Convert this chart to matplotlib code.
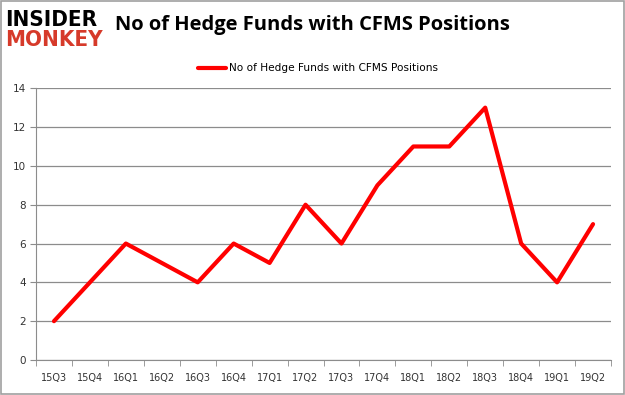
import numpy as np
import matplotlib.pyplot as plt
from matplotlib.patches import Rectangle

quarters = ['15Q3', '15Q4', '16Q1', '16Q2', '16Q3', '16Q4', '17Q1', '17Q2',
            '17Q3', '17Q4', '18Q1', '18Q2', '18Q3', '18Q4', '19Q1', '19Q2']
fondos = [2, 4, 6, 5, 4, 6, 5, 8, 6, 9, 11, 11, 13, 6, 4, 7]
yticks = [0, 2, 4, 6, 8, 10, 12, 14]

serie = 'No of Hedge Funds with CFMS Positions'
gris = '#8c8c8c'
texto = '#333333'

fig = plt.figure(figsize=(6.25, 3.95), dpi=100)
ax = fig.add_axes([0.0576, 0.0886, 0.92, 0.688])

x = np.arange(len(quarters))
ax.plot(x, fondos, color='#ff0000', lw=3, solid_capstyle='round', label=serie)

ax.set_xlim(-0.5, len(quarters) - 0.5)
ax.set_ylim(0, 14)
ax.set_yticks(yticks)
ax.set_xticks(x)
ax.set_xticklabels(quarters)
ax.set_xticks(np.arange(-0.5, len(quarters), 1), minor=True)
ax.tick_params(axis='x', which='major', length=0, pad=9, labelsize=7, labelcolor=texto)
ax.tick_params(axis='x', which='minor', length=4, color=gris)
ax.tick_params(axis='y', length=4, color=gris, labelsize=7.5, labelcolor=texto, pad=3)
ax.grid(axis='y', color=gris, lw=0.9)
ax.set_axisbelow(True)
for s in ['top', 'right']:
    ax.spines[s].set_visible(False)
for s in ['left', 'bottom']:
    ax.spines[s].set_color(gris)

ax.legend(loc='lower center', bbox_to_anchor=(0.49, 1.02), frameon=False,
          fontsize=7.6, handlelength=2.7, handletextpad=0.2)

fig.text(0.184, 0.937, serie, fontsize=14.5, fontweight='bold', family='Open Sans',
         ha='left', va='center', color='black')
fig.text(0.008, 0.95, 'INSIDER', fontsize=16, fontweight='heavy', family='DejaVu Sans',
         fontstretch='condensed', ha='left', va='center', color='black')
fig.text(0.008, 0.9, 'MONKEY', fontsize=16, fontweight='heavy', family='DejaVu Sans',
         fontstretch='condensed', ha='left', va='center', color='#d63a2a')

fig.patches.append(Rectangle((0.0015, 0.0015), 0.997, 0.997, transform=fig.transFigure,
                             fill=False, edgecolor='#a0a0a0', lw=1.2))

fig.savefig('out.png', dpi=100)
